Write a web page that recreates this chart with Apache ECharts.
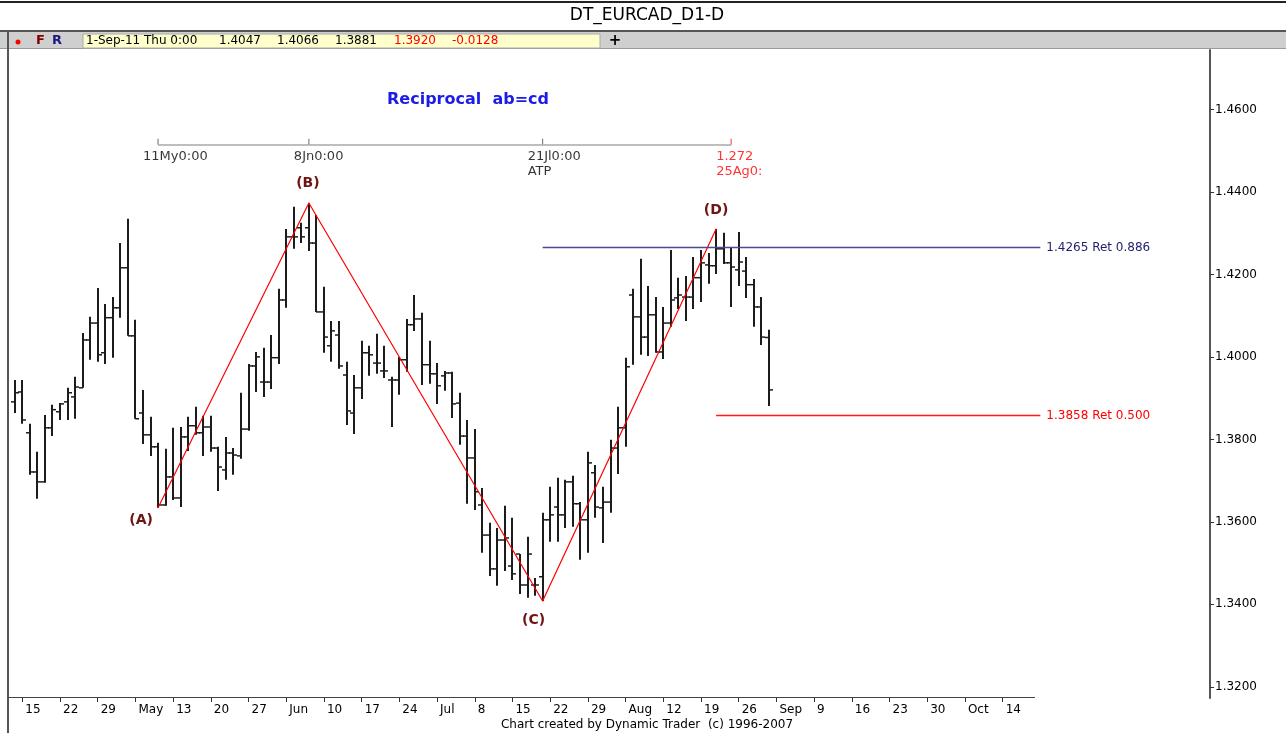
<!DOCTYPE html>
<html>
<head>
<meta charset="utf-8">
<title>DT_EURCAD_D1-D</title>
<script src="https://cdn.jsdelivr.net/npm/echarts@6/dist/echarts.min.js"></script>
<style>
  html, body { margin: 0; padding: 0; background: #fff; }
  #main { width: 1286px; height: 733px; }
</style>
</head>
<body>
<div id="main"></div>
<script>
// daily bars, weekdays only, starting Thu 14-Apr-2011
var firstDay = '2011-04-14'
var dayCount = 159
var lastTickDay = '2011-10-14'

var opens = [
  1.3891, 1.3915, 1.3816, 1.3721, 1.3697, 1.3828, 1.3867, 1.3891, 1.3903, 1.3925,
  1.4041, 1.4082, 1.4010, 1.4095, 1.4119, 1.4216, 1.4051, 1.3864, 1.3811, 1.3782,
  1.3641, 1.3709, 1.3658, 1.3806, 1.3833, 1.3816, 1.3830, 1.3779, 1.3726, 1.3767,
  1.3760, 1.3825, 1.3978, 1.3939, 1.3939, 1.3998, 1.4138, 1.4291, 1.4313, 1.4313,
  1.4276, 1.4109, 1.4027, 1.4053, 1.3956, 1.3864, 1.3925, 1.4010, 1.3985, 1.3966,
  1.3944, 1.3944, 1.3993, 1.4078, 1.4092, 1.3981, 1.3959, 1.3954, 1.3961, 1.3888,
  1.3808, 1.3755, 1.3641, 1.3568, 1.3486, 1.3556, 1.3493, 1.3522, 1.3447, 1.3447,
  1.3467, 1.3605, 1.3636, 1.3617, 1.3697, 1.3644, 1.3605, 1.3719, 1.3634, 1.3648,
  1.3779, 1.3828, 1.4150, 1.4097, 1.4048, 1.4102, 1.4012, 1.4082, 1.4143, 1.4145,
  1.4145, 1.4192, 1.4223, 1.4221, 1.4262, 1.4228, 1.4211, 1.4208, 1.4175, 1.4121,
  1.4047
]
var highs = [
  1.3944, 1.3944, 1.3838, 1.3770, 1.3859, 1.3884, 1.3888, 1.3925, 1.3952, 1.4058,
  1.4097, 1.4167, 1.4128, 1.4145, 1.4276, 1.4335, 1.4090, 1.3920, 1.3855, 1.3792,
  1.3777, 1.3828, 1.3830, 1.3855, 1.3879, 1.3857, 1.3857, 1.3782, 1.3806, 1.3779,
  1.3913, 1.3983, 1.4012, 1.4022, 1.4053, 1.4165, 1.4310, 1.4364, 1.4325, 1.4373,
  1.4344, 1.4170, 1.4087, 1.4087, 1.3988, 1.3956, 1.4039, 1.4027, 1.4056, 1.4027,
  1.3952, 1.4000, 1.4092, 1.4150, 1.4107, 1.4039, 1.3985, 1.3966, 1.3964, 1.3913,
  1.3847, 1.3825, 1.3682, 1.3598, 1.3585, 1.3639, 1.3610, 1.3522, 1.3564, 1.3464,
  1.3622, 1.3685, 1.3707, 1.3702, 1.3712, 1.3648, 1.3770, 1.3738, 1.3685, 1.3799,
  1.3879, 1.3998, 1.4165, 1.4238, 1.4172, 1.4145, 1.4121, 1.4259, 1.4192, 1.4196,
  1.4242, 1.4259, 1.4252, 1.4310, 1.4301, 1.4264, 1.4303, 1.4242, 1.4189, 1.4145,
  1.4066
]
var lows = [
  1.3864, 1.3838, 1.3714, 1.3656, 1.3695, 1.3808, 1.3847, 1.3847, 1.3850, 1.3925,
  1.3993, 1.3988, 1.3983, 1.3998, 1.4095, 1.4051, 1.3850, 1.3789, 1.3760, 1.3634,
  1.3639, 1.3653, 1.3636, 1.3772, 1.3811, 1.3760, 1.3770, 1.3675, 1.3702, 1.3714,
  1.3753, 1.3821, 1.3915, 1.3903, 1.3922, 1.3983, 1.4119, 1.4262, 1.4276, 1.4257,
  1.4109, 1.4010, 1.3988, 1.3971, 1.3835, 1.3813, 1.3898, 1.3954, 1.3959, 1.3949,
  1.3830, 1.3908, 1.3964, 1.4063, 1.3932, 1.3935, 1.3886, 1.3918, 1.3852, 1.3787,
  1.3644, 1.3629, 1.3525, 1.3469, 1.3445, 1.3481, 1.3459, 1.3425, 1.3416, 1.3421,
  1.3408, 1.3552, 1.3552, 1.3585, 1.3588, 1.3508, 1.3525, 1.3610, 1.3549, 1.3622,
  1.3716, 1.3782, 1.3981, 1.4005, 1.4002, 1.4010, 1.3995, 1.4073, 1.4116, 1.4087,
  1.4116, 1.4133, 1.4177, 1.4201, 1.4225, 1.4121, 1.4172, 1.4143, 1.4073, 1.4029,
  1.3881
]
var closes = [
  1.3913, 1.3847, 1.3721, 1.3697, 1.3828, 1.3872, 1.3886, 1.3913, 1.3927, 1.4041,
  1.4082, 1.4005, 1.4095, 1.4119, 1.4216, 1.4051, 1.3850, 1.3811, 1.3782, 1.3641,
  1.3709, 1.3658, 1.3806, 1.3833, 1.3816, 1.3830, 1.3779, 1.3733, 1.3767, 1.3762,
  1.3825, 1.3978, 1.4000, 1.3939, 1.3998, 1.4138, 1.4291, 1.4291, 1.4291, 1.4276,
  1.4109, 1.4048, 1.4063, 1.3978, 1.3869, 1.3925, 1.4010, 1.4005, 1.3985, 1.3966,
  1.3944, 1.3993, 1.4078, 1.4092, 1.3981, 1.3959, 1.3930, 1.3961, 1.3886, 1.3808,
  1.3755, 1.3673, 1.3568, 1.3486, 1.3556, 1.3561, 1.3474, 1.3447, 1.3522, 1.3447,
  1.3605, 1.3617, 1.3617, 1.3697, 1.3644, 1.3605, 1.3743, 1.3636, 1.3648, 1.3779,
  1.3828, 1.3976, 1.4097, 1.4048, 1.4102, 1.4012, 1.4082, 1.4138, 1.4150, 1.4145,
  1.4192, 1.4228, 1.4221, 1.4262, 1.4228, 1.4218, 1.4230, 1.4175, 1.4121, 1.4048,
  1.3920
]

var yTicks = [1.32, 1.34, 1.36, 1.38, 1.40, 1.42, 1.44, 1.46]

// ABCD pattern pivots (bar index, price)
var pivotNames = ['(A)', '(B)', '(C)', '(D)']
var pivotIdx = [19, 39, 70, 93]
var pivotVals = [1.3634, 1.4373, 1.3408, 1.4310]

// retracement levels
var retLevels = [1.4265, 1.3858]
var retNames = ['Ret 0.886', 'Ret 0.500']
var retFrom = [70, 93]
var retTo = 136

// time ruler
var rulerIdx = [19, 39, 70, 95]
var rulerText = ['11My0:00', '8Jn0:00', '21Jl0:00\nATP', '1.272\n25Ag0:']
var rulerLevel = 1.4514

var FONT = "'DejaVu Sans', Verdana, sans-serif"
var MON = ['Jan','Feb','Mar','Apr','May','Jun','Jul','Aug','Sep','Oct','Nov','Dec']
var WD = ['Sun','Mon','Tue','Wed','Thu','Fri','Sat']

var days = []
var d = new Date(firstDay + 'T00:00:00Z')
while (days.length < dayCount) {
  var wd = d.getUTCDay()
  if (wd !== 0 && wd !== 6) days.push(d.toISOString().slice(0, 10))
  d.setUTCDate(d.getUTCDate() + 1)
}

function isTick(idx, val) {
  var dt = new Date(val + 'T00:00:00Z')
  return dt.getUTCDay() === 5 && val <= lastTickDay
}

var bars = opens.map(function (o, i) { return [i, o, highs[i], lows[i], closes[i]] })
var last = opens.length - 1
var lastDate = new Date(days[last] + 'T00:00:00Z')
var change = closes[last] - closes[last - 1]

var myChart = echarts.init(document.getElementById('main'))

var option = {
  animation: false,
  backgroundColor: '#fff',
  grid: { left: 11, right: 76, top: 50, bottom: 35 },
  xAxis: {
    type: 'category',
    data: days,
    boundaryGap: true,
    axisLine: { show: false },
    axisTick: { show: true, alignWithLabel: true, interval: isTick, length: 4, lineStyle: { color: '#333' } },
    axisLabel: {
      interval: isTick, align: 'left', margin: 6, padding: [0, 0, 0, 3],
      color: '#000', fontSize: 12, fontFamily: FONT,
      formatter: function (val) {
        var dt = new Date(val + 'T00:00:00Z')
        var dd = dt.getUTCDate()
        return dd <= 7 ? MON[dt.getUTCMonth()] : String(dd)
      }
    },
    splitLine: { show: false }
  },
  yAxis: {
    type: 'value',
    position: 'right',
    min: 1.3173,
    max: 1.4744,
    axisLine: { show: true, lineStyle: { color: '#555', width: 2 } },
    axisTick: { show: true, length: 4, customValues: yTicks, lineStyle: { color: '#333' } },
    axisLabel: {
      customValues: yTicks, margin: 5, color: '#000', fontSize: 12, fontFamily: FONT,
      formatter: function (v) { return v.toFixed(4) }
    },
    splitLine: { show: false }
  },
  series: [
    {
      type: 'custom',
      name: 'EURCAD',
      data: bars,
      encode: { x: 0, y: [1, 2, 3, 4] },
      z: 3,
      renderItem: function (params, api) {
        var i = api.value(0)
        var pO = api.coord([i, api.value(1)])
        var pH = api.coord([i, api.value(2)])
        var pL = api.coord([i, api.value(3)])
        var pC = api.coord([i, api.value(4)])
        var x = Math.round(pO[0])
        return {
          type: 'group',
          children: [
            { type: 'line', shape: { x1: x, y1: pH[1], x2: x, y2: pL[1] }, style: { stroke: '#1c1c1c', lineWidth: 2 } },
            { type: 'line', shape: { x1: x - 4, y1: pO[1], x2: x, y2: pO[1] }, style: { stroke: '#1c1c1c', lineWidth: 1.5 } },
            { type: 'line', shape: { x1: x, y1: pC[1], x2: x + 4, y2: pC[1] }, style: { stroke: '#1c1c1c', lineWidth: 1.5 } }
          ]
        }
      },
      markLine: {
        symbol: 'none',
        silent: true,
        animation: false,
        data: [
          [
            {
              coord: [retFrom[0], retLevels[0]],
              lineStyle: { color: '#4a4a8e', width: 1.3, type: 'solid' },
              label: { show: true, position: 'end', distance: 6, formatter: retLevels[0].toFixed(4) + ' ' + retNames[0], color: '#1e1e6e', fontSize: 12, fontFamily: FONT }
            },
            { coord: [retTo, retLevels[0]] }
          ],
          [
            {
              coord: [retFrom[1], retLevels[1]],
              lineStyle: { color: '#ff1a1a', width: 1.3, type: 'solid' },
              label: { show: true, position: 'end', distance: 6, formatter: retLevels[1].toFixed(4) + ' ' + retNames[1], color: '#ff0000', fontSize: 12, fontFamily: FONT }
            },
            { coord: [retTo, retLevels[1]] }
          ],
          {
            yAxis: closes[last],
            lineStyle: { width: 0, opacity: 0 },
            label: {
              show: true, position: 'end', distance: 1, formatter: closes[last].toFixed(4),
              backgroundColor: '#ffff00', color: '#000', padding: [1, 40, 1, 4], fontSize: 12, fontFamily: FONT
            }
          }
        ]
      }
    },
    {
      type: 'line',
      name: 'ABCD',
      data: pivotIdx.map(function (x, k) { return [x, pivotVals[k]] }),
      symbol: 'circle',
      symbolSize: 1,
      z: 4,
      itemStyle: { color: '#ff0000' },
      lineStyle: { color: '#ff0000', width: 1.2 },
      label: {
        show: true,
        position: 'inside',
        color: '#6e1414',
        fontWeight: 'bold',
        fontSize: 14,
        fontFamily: FONT,
        formatter: function (p) { return pivotNames[p.dataIndex] }
      },
      labelLayout: function (params) {
        var offs = [[-17, 13], [-1, -20], [-9, 19], [0, -19]]
        var o = offs[params.dataIndex]
        return { dx: o[0], dy: o[1] }
      }
    },
    {
      type: 'scatter',
      name: 'ruler',
      data: rulerIdx.map(function (x, k) {
        var red = k === rulerIdx.length - 1
        return {
          value: [x, rulerLevel],
          itemStyle: { color: red ? '#ff0000' : '#444' },
          label: { formatter: rulerText[k], color: red ? '#ff0000' : '#000' }
        }
      }),
      symbol: 'rect',
      symbolSize: [1, 6],
      symbolOffset: [0, -3],
      z: 4,
      label: { show: true, position: 'bottom', align: 'left', distance: 4, offset: [-15, 0], fontSize: 13, lineHeight: 15, fontFamily: FONT },
      markLine: {
        symbol: 'none',
        silent: true,
        lineStyle: { color: '#a9a9a9', width: 1.5, type: 'solid' },
        label: { show: false },
        data: [[{ coord: [rulerIdx[0], rulerLevel] }, { coord: [rulerIdx[rulerIdx.length - 1], rulerLevel] }]]
      }
    }
  ],
  graphic: [
    // frame and header
    { type: 'rect', shape: { x: 0, y: 1, width: 1286, height: 2 }, style: { fill: '#222' } },
    { type: 'text', x: 647, y: 16, style: { text: 'DT_EURCAD_D1-D', fill: '#000', font: '17px ' + FONT, textAlign: 'center', textVerticalAlign: 'middle' } },
    { type: 'rect', shape: { x: 0, y: 30, width: 1286, height: 2 }, style: { fill: '#555' } },
    { type: 'rect', shape: { x: 0, y: 32, width: 1286, height: 16 }, style: { fill: '#cfcfcf' } },
    { type: 'rect', shape: { x: 0, y: 48, width: 1286, height: 1 }, style: { fill: '#9a9a9a' } },
    { type: 'rect', shape: { x: 7, y: 30, width: 2, height: 703 }, style: { fill: '#555' } },
    { type: 'circle', shape: { cx: 18, cy: 42, r: 2.5 }, style: { fill: '#ff0000' } },
    { type: 'text', x: 36, y: 41, style: { text: 'F', fill: '#800000', font: 'bold 13px ' + FONT, textVerticalAlign: 'middle' } },
    { type: 'text', x: 52, y: 41, style: { text: 'R', fill: '#1a1a80', font: 'bold 13px ' + FONT, textVerticalAlign: 'middle' } },
    { type: 'rect', shape: { x: 83, y: 34, width: 517, height: 14 }, style: { fill: '#ffffcc', stroke: '#aaa', lineWidth: 1 } },
    { type: 'text', x: 86, y: 41, style: { text: lastDate.getUTCDate() + '-' + MON[lastDate.getUTCMonth()] + '-' + String(lastDate.getUTCFullYear()).slice(2) + ' ' + WD[lastDate.getUTCDay()] + ' 0:00', fill: '#000', font: '12px ' + FONT, textVerticalAlign: 'middle' } },
    { type: 'text', x: 219, y: 41, style: { text: opens[last].toFixed(4), fill: '#000', font: '12px ' + FONT, textVerticalAlign: 'middle' } },
    { type: 'text', x: 277, y: 41, style: { text: highs[last].toFixed(4), fill: '#000', font: '12px ' + FONT, textVerticalAlign: 'middle' } },
    { type: 'text', x: 335, y: 41, style: { text: lows[last].toFixed(4), fill: '#000', font: '12px ' + FONT, textVerticalAlign: 'middle' } },
    { type: 'text', x: 394, y: 41, style: { text: closes[last].toFixed(4), fill: '#ff0000', font: '12px ' + FONT, textVerticalAlign: 'middle' } },
    { type: 'text', x: 452, y: 41, style: { text: change.toFixed(4), fill: '#ff0000', font: '12px ' + FONT, textVerticalAlign: 'middle' } },
    { type: 'text', x: 615, y: 41, style: { text: '+', fill: '#000', font: 'bold 15px ' + FONT, textAlign: 'center', textVerticalAlign: 'middle' } },
    // chart annotation
    { type: 'text', x: 387, y: 100, style: { text: 'Reciprocal  ab=cd', fill: '#1c1ce8', font: 'bold 16px ' + FONT, textVerticalAlign: 'middle' } },
    // date axis baseline (stops before the empty right margin)
    { type: 'rect', shape: { x: 8, y: 697, width: 1027, height: 1 }, style: { fill: '#444' } },
    { type: 'text', x: 647, y: 725, style: { text: 'Chart created by Dynamic Trader  (c) 1996-2007', fill: '#000', font: '12px ' + FONT, textAlign: 'center', textVerticalAlign: 'middle' } }
  ]
}

myChart.setOption(option)
</script>
</body>
</html>
